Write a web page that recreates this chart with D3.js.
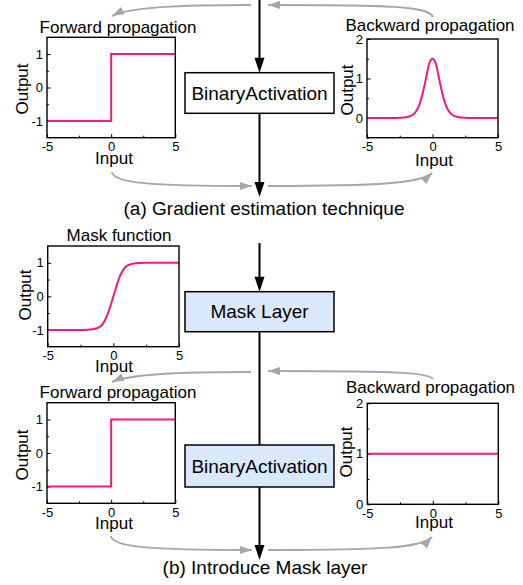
<!DOCTYPE html>
<html>
<head>
<meta charset="utf-8">
<script src="https://cdn.jsdelivr.net/npm/d3@7"></script>
<style>
  html, body { margin: 0; padding: 0; background: #fff; }
  svg { display: block; font-family: "Liberation Sans", Arial, sans-serif; }
</style>
</head>
<body>
<svg id="chart" width="523" height="585"></svg>
<script>
// ---------------- data ----------------
const xTicks = [-5, 0, 5];
const xMinorTicks = [-2.5, 2.5];
const signYTicks = [-1, 0, 1];
const signYMinor = [-0.5, 0.5];
const backAYTicks = [0, 1, 2];
const backAYMinor = [-0.5, 0.5, 1.5];
const backBYTicks = [0, 1, 2];
const backBYMinor = [0.5, 1.5];

const forwardX = [-5, 0, 0, 5];
const forwardY = [-1, -1, 1, 1];

const backwardAX = [-5, -3, -2.5, -2, -1.75, -1.5, -1.25, -1, -0.75, -0.5, -0.25, 0, 0.25, 0.5, 0.75, 1, 1.25, 1.5, 1.75, 2, 2.5, 3, 5];
const backwardAY = [0, 0, 0.005, 0.02, 0.04, 0.08, 0.17, 0.34, 0.62, 1.0, 1.38, 1.5, 1.38, 1.0, 0.62, 0.34, 0.17, 0.08, 0.04, 0.02, 0.005, 0, 0];

const maskX = [-5, -2.5, -2, -1.5, -1.25, -1, -0.75, -0.5, -0.25, 0, 0.25, 0.5, 0.75, 1, 1.25, 1.5, 2, 2.5, 5];
const maskY = [-1, -1, -0.995, -0.975, -0.95, -0.9, -0.79, -0.6, -0.32, 0, 0.32, 0.6, 0.79, 0.9, 0.95, 0.975, 0.995, 1, 1];

const backwardBX = [-5, 5];
const backwardBY = [1, 1];

const panelTitles = ["Forward propagation", "Backward propagation", "Mask function", "Forward propagation", "Backward propagation"];
const boxLabels = ["BinaryActivation", "Mask Layer", "BinaryActivation"];
const captions = ["(a) Gradient estimation technique", "(b) Introduce Mask layer"];

// ---------------- layout ----------------
const PINK = "#f5168c";
const GRAY = "#a6a6a6";
const svg = d3.select("#chart");

const defs = svg.append("defs");
defs.append("marker")
  .attr("id", "garrow")
  .attr("markerUnits", "userSpaceOnUse")
  .attr("viewBox", "0 0 12 8")
  .attr("refX", 12).attr("refY", 4)
  .attr("markerWidth", 12).attr("markerHeight", 8)
  .attr("orient", "auto")
  .append("path").attr("d", "M0,0 L12,4 L0,8 Z").attr("fill", GRAY);

const panels = [
  { x0: 47, x1: 175.3, y0: 37.3, y1: 137.7, yd: [-1.5, 1.5], yt: signYTicks, ym: signYMinor,
    xs: forwardX, ys: forwardY, curve: d3.curveLinear, title: panelTitles[0], tx: 118, ty: 32.5,
    ix: 114, iy: 163.5, ox: 22, oy: 89 },
  { x0: 367, x1: 498, y0: 39, y1: 137.7, yd: [-0.5, 2], yt: backAYTicks, ym: backAYMinor,
    xs: backwardAX, ys: backwardAY, curve: d3.curveMonotoneX, title: panelTitles[1], tx: 430, ty: 30.5,
    ix: 434, iy: 165.5, ox: 347, oy: 90 },
  { x0: 47.7, x1: 179, y0: 246, y1: 346.7, yd: [-1.5, 1.5], yt: signYTicks, ym: signYMinor,
    xs: maskX, ys: maskY, curve: d3.curveMonotoneX, title: panelTitles[2], tx: 119, ty: 240.5,
    ix: 114, iy: 371.5, ox: 25, oy: 295 },
  { x0: 47, x1: 175.3, y0: 402.7, y1: 503.3, yd: [-1.5, 1.5], yt: signYTicks, ym: signYMinor,
    xs: forwardX, ys: forwardY, curve: d3.curveLinear, title: panelTitles[3], tx: 118, ty: 398,
    ix: 114, iy: 529.3, ox: 22, oy: 455 },
  { x0: 367.3, x1: 498.3, y0: 403.3, y1: 504.3, yd: [0, 2], yt: backBYTicks, ym: backBYMinor,
    xs: backwardBX, ys: backwardBY, curve: d3.curveLinear, title: panelTitles[4], tx: 430.5, ty: 393,
    ix: 434, iy: 528.3, ox: 346, oy: 452 }
];

panels.forEach(p => {
  const g = svg.append("g");
  const x = d3.scaleLinear().domain([-5, 5]).range([p.x0, p.x1]);
  const y = d3.scaleLinear().domain(p.yd).range([p.y1, p.y0]);

  // minor ticks
  const xm = g.append("g").attr("transform", `translate(0,${p.y1})`)
    .call(d3.axisBottom(x).tickValues(xMinorTicks).tickSize(-2).tickFormat(""));
  const ymn = g.append("g").attr("transform", `translate(${p.x0},0)`)
    .call(d3.axisLeft(y).tickValues(p.ym).tickSize(-2).tickFormat(""));
  // major ticks
  const xa = g.append("g").attr("transform", `translate(0,${p.y1})`)
    .call(d3.axisBottom(x).tickValues(xTicks).tickSize(-3.5).tickPadding(4.5).tickFormat(d3.format("d")));
  const ya = g.append("g").attr("transform", `translate(${p.x0},0)`)
    .call(d3.axisLeft(y).tickValues(p.yt).tickSize(-3.5).tickPadding(4).tickFormat(d3.format("d")));
  [xm, ymn, xa, ya].forEach(a => {
    a.select(".domain").remove();
    a.selectAll(".tick line").attr("stroke", "#000").attr("stroke-width", 1);
    a.selectAll("text").attr("font-size", 13).attr("fill", "#000")
      .attr("font-family", "Liberation Sans, Arial, sans-serif");
  });
  xa.selectAll("text").text(d => d < 0 ? "-" + Math.abs(d) : d);
  ya.selectAll("text").text(d => d < 0 ? "-" + Math.abs(d) : d);

  // curve
  const pts = p.xs.map((v, i) => [v, p.ys[i]]);
  g.append("path")
    .datum(pts)
    .attr("fill", "none")
    .attr("stroke", PINK)
    .attr("stroke-width", 2)
    .attr("d", d3.line().x(d => x(d[0])).y(d => y(d[1])).curve(p.curve));

  // frame
  g.append("rect")
    .attr("x", p.x0).attr("y", p.y0)
    .attr("width", p.x1 - p.x0).attr("height", p.y1 - p.y0)
    .attr("fill", "none").attr("stroke", "#000").attr("stroke-width", 1.4);

  // title
  g.append("text").attr("x", p.tx).attr("y", p.ty)
    .attr("text-anchor", "middle").attr("font-size", 17).text(p.title);
  // Input
  g.append("text").attr("x", p.ix).attr("y", p.iy)
    .attr("text-anchor", "middle").attr("font-size", 17).text("Input");
  // Output
  g.append("text")
    .attr("transform", `translate(${p.ox},${p.oy}) rotate(-90)`)
    .attr("text-anchor", "middle").attr("dominant-baseline", "central")
    .attr("font-size", 17).text("Output");
});

// ---------------- flow boxes ----------------
const boxes = [
  { y0: 72.7, y1: 113.3, fill: "#ffffff", label: boxLabels[0] },
  { y0: 291.7, y1: 331.7, fill: "#dae8fc", label: boxLabels[1] },
  { y0: 445, y1: 487, fill: "#dae8fc", label: boxLabels[2] }
];
const BX0 = 185, BX1 = 334, LX = 259.5;

// black lines + arrowheads
function vline(y0, y1) {
  svg.append("line").attr("x1", LX).attr("x2", LX).attr("y1", y0).attr("y2", y1)
    .attr("stroke", "#000").attr("stroke-width", 2);
}
function headDown(tip) {
  svg.append("path").attr("d", `M${LX},${tip} L${LX - 5},${tip - 15} L${LX + 5},${tip - 15} Z`)
    .attr("fill", "#000");
}
vline(0, 60); headDown(72.7);
vline(113.3, 184); headDown(197);
vline(243, 279); headDown(291.7);
vline(331.7, 445);
vline(487, 547); headDown(560);

boxes.forEach(b => {
  svg.append("rect").attr("x", BX0).attr("y", b.y0)
    .attr("width", BX1 - BX0).attr("height", b.y1 - b.y0)
    .attr("fill", b.fill).attr("stroke", "#000").attr("stroke-width", 1.5);
  svg.append("text").attr("x", (BX0 + BX1) / 2).attr("y", (b.y0 + b.y1) / 2)
    .attr("text-anchor", "middle").attr("dominant-baseline", "central")
    .attr("font-size", 19).text(b.label);
});

// ---------------- gray curved arrows ----------------
const grayPaths = [
  "M433,17 C428,6 390,5 268,5",
  "M251,5 C180,5 130,7 112,16",
  "M112,172 C113,183 150,186 252,186",
  "M268,186 C380,186 422,183 432,173",
  "M433,379 C428,372 390,371 268,371",
  "M251,372 C180,372 130,374 112,382",
  "M111,536 C112,547 150,550 252,550",
  "M268,550 C380,550 422,548 432,537"
];
grayPaths.forEach(d => {
  svg.append("path").attr("d", d).attr("fill", "none")
    .attr("stroke", GRAY).attr("stroke-width", 2)
    .attr("marker-end", "url(#garrow)");
});

// ---------------- captions ----------------
svg.append("text").attr("x", 264).attr("y", 215).attr("text-anchor", "middle")
  .attr("font-size", 19).text(captions[0]);
svg.append("text").attr("x", 265).attr("y", 574).attr("text-anchor", "middle")
  .attr("font-size", 19).text(captions[1]);
</script>
</body>
</html>
